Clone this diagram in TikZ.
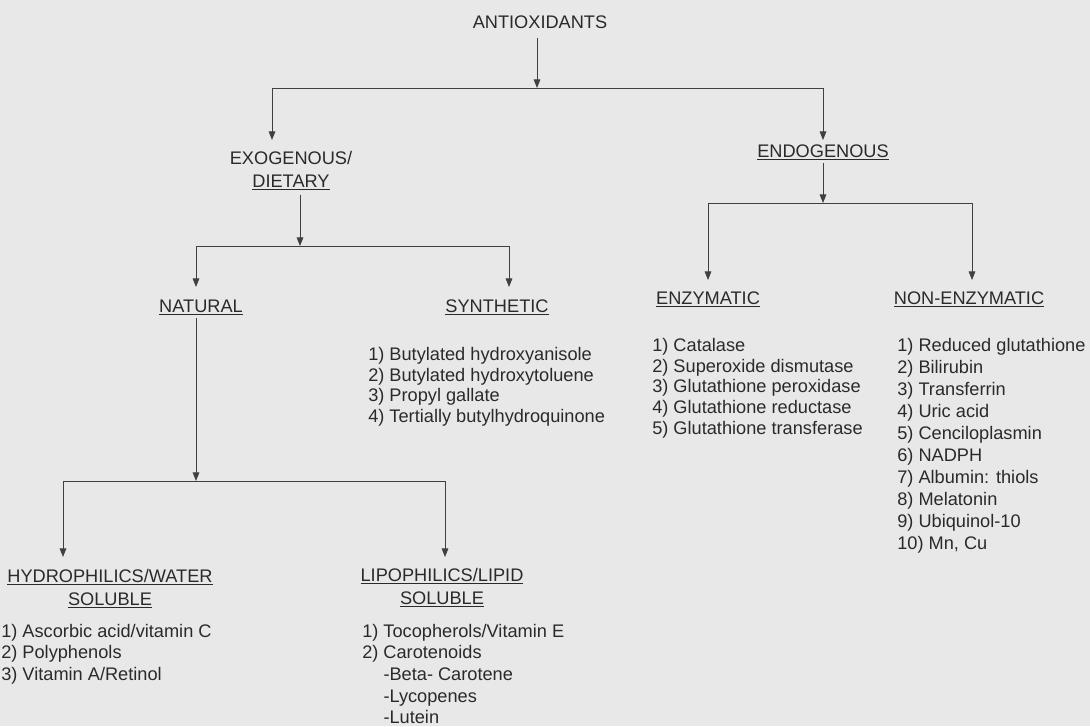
\documentclass[tikz,border=0pt]{standalone}
\usepackage{fontspec}
\setmainfont{Liberation Sans}
\usetikzlibrary{arrows.meta}
\definecolor{paper}{RGB}{232,232,232}
\definecolor{ink}{RGB}{42,42,42}
\definecolor{wire}{RGB}{64,64,64}

\begin{document}
\begin{tikzpicture}[x=0.75bp, y=-0.75bp, every node/.style={inner sep=0pt, text=ink, font=\fontsize{13.7}{16.2}\selectfont}]
        \tikzstyle{hdr} = [align=center, anchor=north, font=\fontsize{13.7}{17.5}\selectfont]
        \tikzstyle{lst} = [align=left, anchor=north west]
        \tikzstyle{arr} = [->, >={Triangle[length=6.5pt, width=5pt]}, draw=wire, line width=0.7pt]
        \fill[paper] (0,0) rectangle (1090,726);
        \useasboundingbox (0,0) rectangle (1090,726);
        % headings
        \node[anchor=base] (anti) at (540,28) {ANTIOXIDANTS};
        \node[hdr] (exo) at (291,151) {EXOGENOUS/\\\underline{DIETARY}};
        \node[anchor=base] (endo) at (823,157) {\underline{ENDOGENOUS}};
        \node[anchor=base] (nat) at (201,312) {\underline{NATURAL}};
        \node[anchor=base] (syn) at (497,312) {\underline{SYNTHETIC}};
        \node[anchor=base] (enz) at (708,304) {\underline{ENZYMATIC}};
        \node[anchor=base] (nen) at (969,304) {\underline{NON-ENZYMATIC}};
        \node[hdr] (hyd) at (110,569) {\underline{HYDROPHILICS/WATER}\\\underline{SOLUBLE}};
        \node[hdr] (lip) at (442,568) {\underline{LIPOPHILICS/LIPID}\\\underline{SOLUBLE}};
        % lists
        \node[lst, font=\fontsize{13.7}{15.6}\selectfont] (synL) at (368,347) {1) Butylated hydroxyanisole\\2) Butylated hydroxytoluene\\3) Propyl gallate\\4) Tertially butylhydroquinone};
        \node[lst, font=\fontsize{13.7}{15.6}\selectfont] (enzL) at (652,338) {1) Catalase\\2) Superoxide dismutase\\3) Glutathione peroxidase\\4) Glutathione reductase\\5) Glutathione transferase};
        \node[lst, font=\fontsize{13.7}{16.6}\selectfont] (nenL) at (897,338) {1) Reduced glutathione\\2) Bilirubin\\3) Transferrin\\4) Uric acid\\5) Cenciloplasmin\\6) NADPH\\7) Albumin: thiols\\8) Melatonin\\9) Ubiquinol-10\\10) Mn, Cu};
        \node[lst] (hydL) at (1,624) {1) Ascorbic acid/vitamin C\\2) Polyphenols\\3) Vitamin A/Retinol};
        \node[lst] (lipL) at (362,624) {1) Tocopherols/Vitamin E\\2) Carotenoids\\\phantom{2) }-Beta- Carotene\\\phantom{2) }-Lycopenes\\\phantom{2) }-Lutein};
        % junctions and arrow ends
        \coordinate (jA) at (537,88);
        \coordinate (exoIn) at (272,140);
        \coordinate (endoIn) at (823,140);
        \coordinate (jE) at (300,246);
        \coordinate (natIn) at (196,287);
        \coordinate (synIn) at (509,287);
        \coordinate (jD) at (823,203);
        \coordinate (enzIn) at (708,280);
        \coordinate (nenIn) at (972,280);
        \coordinate (jN) at (196,481);
        \coordinate (hydIn) at (63,557);
        \coordinate (lipIn) at (445,557);
        % connectors
        \draw[arr, shorten <=7pt] (anti.south -| jA) -- (jA);
        \draw[arr] (jA) -| (exoIn);
        \draw[arr] (jA) -| (endoIn);
        \draw[arr, shorten <=3pt] (exo.south -| jE) -- (jE);
        \draw[arr] (jE) -| (natIn);
        \draw[arr] (jE) -| (synIn);
        \draw[arr, shorten <=2pt] (endo.south -| jD) -- (jD);
        \draw[arr] (jD) -| (enzIn);
        \draw[arr] (jD) -| (nenIn);
        \draw[arr, shorten <=2pt] (nat.south -| jN) -- (jN);
        \draw[arr] (jN) -| (hydIn);
        \draw[arr] (jN) -| (lipIn);
      \end{tikzpicture}
\end{document}
